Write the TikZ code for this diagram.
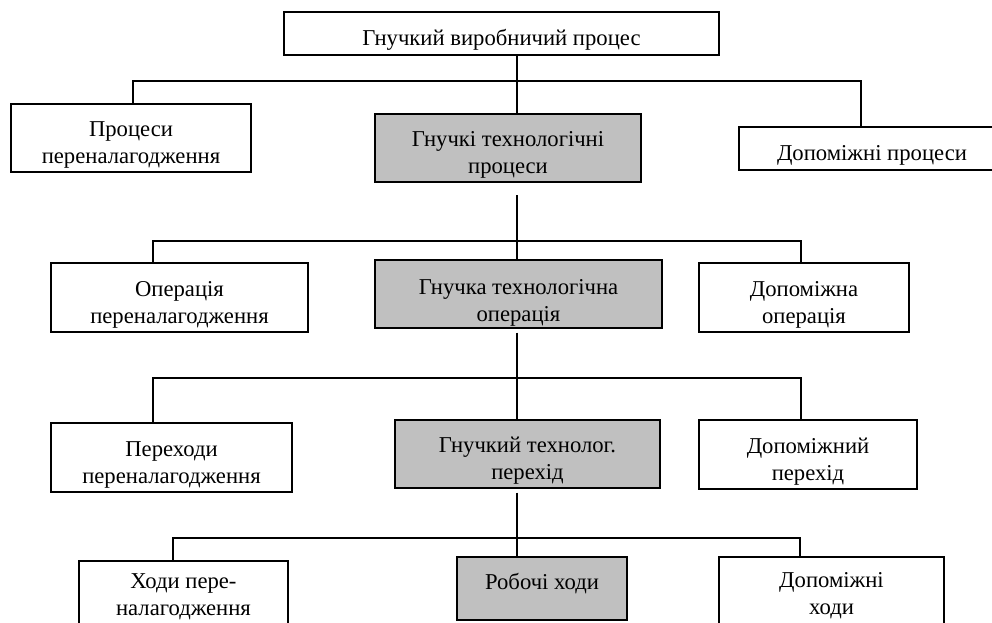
\documentclass[tikz,border=0pt]{standalone}
\usepackage{fontspec}
\setmainfont{Liberation Serif}
\usepackage{tikz}
\usetikzlibrary{positioning,calc}
\definecolor{mygray}{RGB}{192,192,192}
% text of a box, set a little below its middle
\newcommand\boxtext[2][-5.2pt]{\raisebox{#1}[\height][\depth]{\begin{tabular}{@{}c@{}}#2\end{tabular}}}

\begin{document}
\begin{tikzpicture}[x=0.75pt,y=-0.75pt,
		  line width=0.9pt,
		  every node/.style={draw,rectangle,align=center,inner sep=0pt,
		    font=\fontsize{17}{20.2}\selectfont},
		  wbox/.style={fill=white},
		  gbox/.style={fill=mygray},
		  sz/.style 2 args={minimum width=#1*0.75pt,minimum height=#2*0.75pt}
		]
			\useasboundingbox (0,0) rectangle (992,622);
			\clip (0,0) rectangle (992,622);

			% the whole process
			\node[wbox,sz={435}{43}] (top) at (501.5,33.5) {\boxtext{Гнучкий виробничий процес}};

			% the processes
			\node[wbox,sz={240}{68}] (p1) at (131,138) {\boxtext{Процеси\\переналагодження}};
			\node[gbox,sz={266}{68}] (p2) at (508,148) {\boxtext{Гнучкі технологічні\\процеси}};
			\node[wbox,sz={266}{43}] (p3) at (872,148.5) {\boxtext{Допоміжні процеси}};

			% the operations
			\node[wbox,sz={257}{69}] (o1) at (179.5,297.5) {\boxtext{Операція\\переналагодження}};
			\node[gbox,sz={287}{68}] (o2) at (518.5,294) {\boxtext[-6.5pt]{Гнучка технологічна\\операція}};
			\node[wbox,sz={210}{69}] (o3) at (804,297.5) {\boxtext{Допоміжна\\операція}};

			% the steps
			\node[wbox,sz={241}{69}] (t1) at (171.5,457.5) {\boxtext{Переходи\\переналагодження}};
			\node[gbox,sz={265}{68}] (t2) at (527.5,454) {\boxtext{Гнучкий технолог.\\перехід}};
			\node[wbox,sz={218}{69}] (t3) at (808,454.5) {\boxtext{Допоміжний\\перехід}};

			% the strokes
			\node[wbox,sz={209}{72}] (h1) at (183.5,597) {\boxtext[0pt]{Ходи пере-\\налагодження}};
			\node[gbox,sz={170}{63}] (h2) at (542,588.5) {\boxtext[3.5pt]{Робочі ходи}};
			\node[wbox,sz={225}{78}] (h3) at (831.5,596) {\boxtext[0pt]{Допоміжні\\ходи}};

			% the bus lines
			\coordinate (trunk) at (517,0);
			\foreach \lv/\y/\xl/\xr in {1/81/133/861,2/241/153/801,3/378/153/801,4/538/173/800}
			{
			  \coordinate (b\lv l) at (\xl,\y);
			  \coordinate (b\lv r) at (\xr,\y);
			}

			% the edges
			\draw (top.south -| trunk) -- (p2.north -| trunk);
			\draw (p1.north -| b1l) -- (b1l) -- (b1r) -- (p3.north -| b1r);
			\draw [shorten <=9.5pt] (p2.south -| trunk) -- (o2.north -| trunk);
			\draw (o1.north -| b2l) -- (b2l) -- (b2r) -- (o3.north -| b2r);
			\draw [shorten <=3pt] (o2.south -| trunk) -- (t2.north -| trunk);
			\draw (t1.north -| b3l) -- (b3l) -- (b3r) -- (t3.north -| b3r);
			\draw [shorten <=3pt] (t2.south -| trunk) -- (h2.north -| trunk);
			\draw (h1.north -| b4l) -- (b4l) -- (b4r) -- (h3.north -| b4r);

		\end{tikzpicture}
\end{document}
